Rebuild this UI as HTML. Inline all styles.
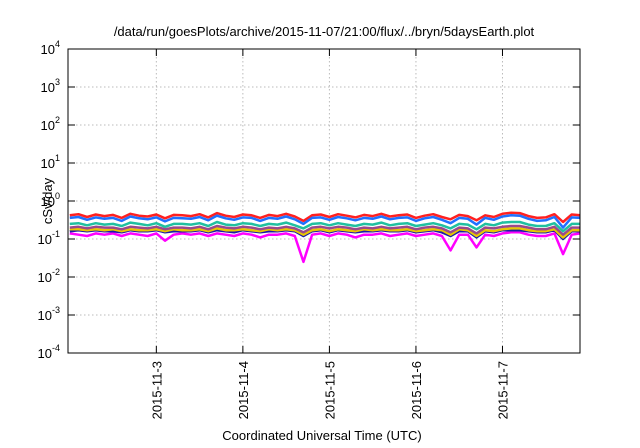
<!DOCTYPE html>
<html><head><meta charset="utf-8"><style>
body{margin:0;background:#fff;}
svg{display:block;font-family:"Liberation Sans",sans-serif;}
</style></head><body>
<svg id="c" width="640" height="448">
<text x="324" y="36" font-size="13" text-anchor="middle">/data/run/goesPlots/archive/2015-11-07/21:00/flux/../bryn/5daysEarth.plot</text>
<text x="322" y="440" font-size="13" text-anchor="middle">Coordinated Universal Time (UTC)</text>
<text transform="translate(52,201) rotate(-90)" font-size="13" text-anchor="middle">cSv/day</text>
<g id="grid"></g><g id="series"></g><g id="axes"></g>
</svg>
<script>
const yExps=[-4,-3,-2,-1,0,1,2,3,4];
const xTickLabels=["2015-11-3","2015-11-4","2015-11-5","2015-11-6","2015-11-7"];
const xTickHours=[24,48,72,96,120];
const hourStep=2.4;
const red=[0.42,0.45,0.38,0.44,0.40,0.43,0.36,0.46,0.41,0.39,0.44,0.35,0.43,0.42,0.40,0.45,0.37,0.48,0.41,0.38,0.44,0.42,0.36,0.43,0.40,0.46,0.39,0.30,0.42,0.44,0.38,0.45,0.41,0.37,0.43,0.40,0.46,0.39,0.42,0.44,0.36,0.41,0.45,0.38,0.33,0.43,0.40,0.31,0.42,0.38,0.46,0.49,0.48,0.40,0.36,0.37,0.45,0.28,0.44,0.42];
const blue=[0.36,0.38,0.32,0.37,0.34,0.36,0.30,0.39,0.35,0.33,0.37,0.29,0.36,0.35,0.34,0.38,0.31,0.41,0.35,0.32,0.37,0.36,0.30,0.36,0.34,0.39,0.33,0.25,0.36,0.37,0.32,0.38,0.35,0.31,0.36,0.34,0.39,0.33,0.36,0.37,0.30,0.35,0.38,0.32,0.26,0.36,0.34,0.24,0.36,0.32,0.39,0.42,0.41,0.34,0.30,0.31,0.38,0.20,0.37,0.36];
const teal=[0.25,0.26,0.23,0.26,0.24,0.25,0.22,0.27,0.25,0.23,0.26,0.21,0.25,0.25,0.24,0.26,0.22,0.28,0.24,0.23,0.26,0.25,0.22,0.25,0.24,0.27,0.23,0.19,0.25,0.26,0.23,0.26,0.24,0.22,0.25,0.24,0.27,0.23,0.25,0.26,0.22,0.24,0.26,0.23,0.19,0.25,0.24,0.18,0.25,0.23,0.27,0.28,0.28,0.24,0.22,0.22,0.26,0.16,0.25,0.25];
const purple=[0.20,0.21,0.19,0.21,0.20,0.20,0.18,0.21,0.20,0.19,0.21,0.18,0.20,0.20,0.19,0.21,0.18,0.22,0.20,0.19,0.21,0.20,0.18,0.20,0.19,0.21,0.19,0.15,0.20,0.21,0.19,0.21,0.20,0.18,0.20,0.19,0.21,0.19,0.20,0.21,0.18,0.20,0.21,0.19,0.15,0.20,0.19,0.14,0.20,0.19,0.21,0.22,0.22,0.20,0.18,0.18,0.21,0.13,0.20,0.20];
const gold=[0.18,0.18,0.17,0.18,0.17,0.18,0.16,0.18,0.17,0.17,0.18,0.16,0.18,0.17,0.17,0.18,0.16,0.19,0.17,0.17,0.18,0.17,0.16,0.18,0.17,0.18,0.17,0.13,0.17,0.18,0.16,0.18,0.17,0.16,0.18,0.17,0.18,0.17,0.17,0.18,0.16,0.17,0.18,0.17,0.13,0.18,0.17,0.12,0.17,0.16,0.18,0.19,0.19,0.17,0.16,0.16,0.18,0.11,0.17,0.17];
const navy=[0.16,0.17,0.16,0.17,0.16,0.16,0.15,0.17,0.16,0.16,0.17,0.15,0.16,0.16,0.16,0.17,0.15,0.17,0.16,0.15,0.17,0.16,0.15,0.16,0.16,0.17,0.16,0.12,0.16,0.17,0.15,0.17,0.16,0.15,0.16,0.16,0.17,0.16,0.16,0.17,0.15,0.16,0.17,0.15,0.12,0.16,0.16,0.11,0.16,0.15,0.17,0.17,0.17,0.16,0.15,0.15,0.17,0.10,0.16,0.16];
const magenta=[0.14,0.13,0.12,0.14,0.13,0.14,0.12,0.14,0.13,0.12,0.14,0.09,0.13,0.14,0.13,0.14,0.12,0.14,0.13,0.12,0.14,0.13,0.11,0.13,0.13,0.14,0.12,0.025,0.13,0.14,0.12,0.14,0.13,0.11,0.13,0.13,0.14,0.12,0.13,0.14,0.12,0.13,0.14,0.12,0.05,0.13,0.13,0.06,0.13,0.12,0.14,0.15,0.15,0.13,0.12,0.12,0.14,0.04,0.13,0.14];
const seriesList=[[magenta,"#ff00ff"],[navy,"#1a1aa8"],[gold,"#e8c800"],[purple,"#9a4a8a"],[teal,"#20c0a0"],[red,"#ff2020"],[blue,"#2070ff"]];
const L=68,R=580,T=49,B=353,H0=-0.5,H1=141.5;
const NS="http://www.w3.org/2000/svg";
function xs(h){return L+(h-H0)/(H1-H0)*(R-L);}
function ys(v){return B-(Math.log10(v)+4)/8*(B-T);}
function mk(tag,attrs,parent){const e=document.createElementNS(NS,tag);for(const k in attrs)e.setAttribute(k,attrs[k]);parent.appendChild(e);return e;}
const grid=document.getElementById('grid'),axes=document.getElementById('axes'),sg=document.getElementById('series');
yExps.forEach(e=>{const y=ys(Math.pow(10,e));
 if(e>-4&&e<4){const g=mk('line',{x1:L,x2:R,y1:y,y2:y,stroke:'#bbb','stroke-dasharray':'1.5,2.5'},grid);
 
 
 mk('line',{x1:L,x2:L+7,y1:y,y2:y,stroke:'#000'},axes);mk('line',{x1:R-7,x2:R,y1:y,y2:y,stroke:'#000'},axes);}
 const t=mk('text',{x:L-8,y:y+5,'font-size':13,'text-anchor':'end'},axes);
 
 
 t.textContent='10';const s=mk('tspan',{dy:-7,'font-size':9},t);s.textContent=String(e);});
xTickHours.forEach((h,i)=>{const x=xs(h);
 const g=mk('line',{x1:x,x2:x,y1:T,y2:B,stroke:'#bbb','stroke-dasharray':'1.5,2.5'},grid);
 
 
 mk('line',{x1:x,x2:x,y1:B,y2:B-7,stroke:'#000'},axes);mk('line',{x1:x,x2:x,y1:T,y2:T+7,stroke:'#000'},axes);
 const t=mk('text',{transform:`translate(${x+5},${B+8}) rotate(-90)`,'font-size':13,'text-anchor':'end'},axes);
 
 
 t.textContent=xTickLabels[i];});
const fr=mk('rect',{x:L,y:T,width:R-L,height:B-T,fill:'none',stroke:'#000','stroke-width':1},axes);


seriesList.forEach(([arr,col])=>{const pts=arr.map((v,i)=>xs(i*hourStep)+','+ys(v).toFixed(1)).join(' ');
 const p=mk('polyline',{points:pts,fill:'none',stroke:col,'stroke-width':2.5,'stroke-linejoin':'round'},sg);
 
 });
</script>
</body></html>
